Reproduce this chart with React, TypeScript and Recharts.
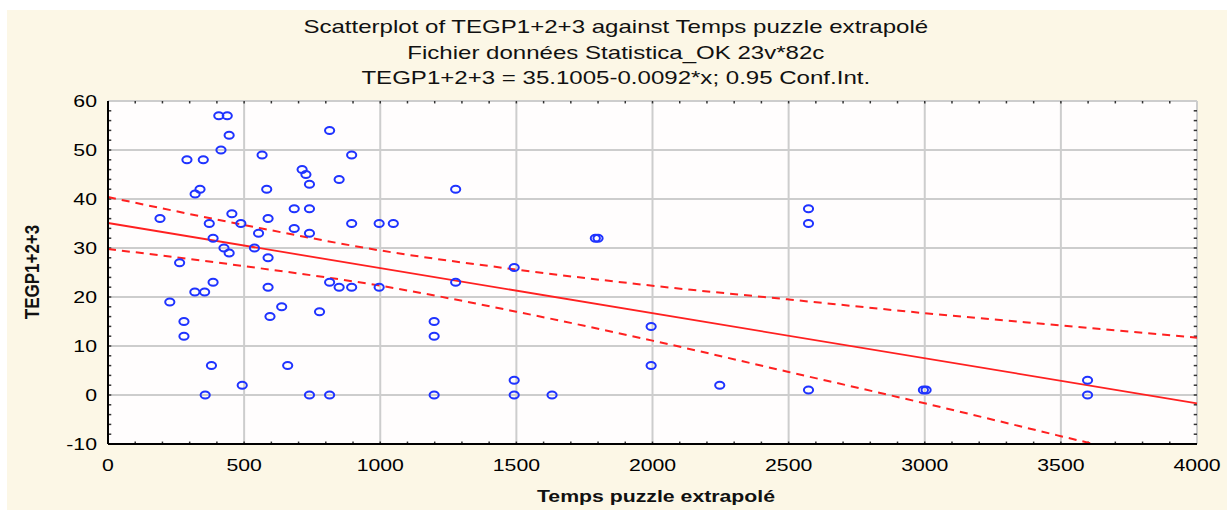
import { ComposedChart, Scatter, Line, XAxis, YAxis, CartesianGrid, ReferenceLine } from 'recharts'

const tempsPuzzle = [
  407, 438, 445, 415, 290, 350, 338, 320, 191, 372, 455, 488, 386, 426, 445, 538, 553, 588, 583, 566,
  814, 895, 713, 727, 740, 849, 684, 740, 895, 996, 1048, 684, 740, 588, 263, 386, 588, 814, 849, 895,
  996, 319, 355, 227, 279, 279, 380, 357, 493, 595, 638, 777, 660, 740, 814, 1277, 1790, 1800, 1492, 1277,
  1198, 1198, 1198, 1492, 1492, 1631, 1995, 1995, 2573, 2573, 2573, 2247, 2995, 3005, 3598, 3598,
]
const tegp = [
  57, 57, 53, 50, 48, 48, 42, 41, 36, 35, 37, 35, 32, 30, 29, 30, 33, 36, 42, 49,
  54, 49, 46, 45, 43, 44, 38, 38, 35, 35, 35, 34, 33, 28, 27, 23, 22, 23, 22, 22,
  22, 21, 21, 19, 15, 12, 6, 0, 2, 16, 18, 17, 6, 0, 0, 42, 32, 32, 26, 23,
  15, 12, 0, 3, 0, 0, 14, 6, 38, 35, 1, 2, 1, 1, 3, 0,
]

// fitted line and 0.95 confidence band, read at each 500
const bandX = [0, 500, 1000, 1500, 2000, 2500, 3000, 3500, 4000]
const bandUpper = [40.4, 34.7, 29.5, 25.6, 22.3, 19.5, 16.7, 14.2, 11.7]
const bandLower = [29.8, 26.3, 22.3, 17.0, 11.1, 4.7, -1.7, -8.4, -15.1]
const fitX = [0, 4000]
const fitY = [35.1, -1.7]

const xTicks = [0, 500, 1000, 1500, 2000, 2500, 3000, 3500, 4000]
const yTicks = [-10, 0, 10, 20, 30, 40, 50, 60]

const points = tempsPuzzle.map((x, i) => ({ x, y: tegp[i] }))
const upper = bandX.map((x, i) => ({ x, y: bandUpper[i] }))
const lower = bandX.map((x, i) => ({ x, y: bandLower[i] }))
const fit = fitX.map((x, i) => ({ x, y: fitY[i] }))

const minorX: number[] = []
for (let v = 100; v < 4000; v += 100) minorX.push(v)
const minorY: number[] = []
for (let v = -8; v < 60; v += 2) minorY.push(v)

const SX = 1.25
const FONT = '"Liberation Sans", Arial, sans-serif'

const XTick = ({ x, y, payload }: any) => (
  <text transform={`translate(${x},${y}) scale(${SX},1)`} textAnchor="middle" dy="0.71em" fontSize={17} fill="#000" fontFamily={FONT}>
    {payload.value}
  </text>
)
const YTick = ({ x, y, payload }: any) => (
  <text transform={`translate(${x},${y}) scale(${SX},1)`} textAnchor="end" dy="0.355em" fontSize={17} fill="#000" fontFamily={FONT}>
    {payload.value}
  </text>
)
const Ring = (p: any) => (
  <ellipse cx={p.cx} cy={p.cy} rx={4.6} ry={3.5} fill="none" stroke="#1f33ff" strokeWidth={2} />
)

const titleStyle: React.CSSProperties = {
  position: 'absolute', left: 0, width: 1220, textAlign: 'center', fontSize: 18.5,
  color: '#111', transform: 'scaleX(1.3)', transformOrigin: '614px 0', whiteSpace: 'nowrap',
}

export default function App() {
  return (
    <div style={{ position: 'absolute', left: 7, top: 10, width: 1220, height: 500, background: '#fcf7e6', fontFamily: FONT }}>
      <div style={{ ...titleStyle, top: 6 }}>Scatterplot of TEGP1+2+3 against Temps puzzle extrapolé</div>
      <div style={{ ...titleStyle, top: 32 }}>Fichier données Statistica_OK 23v*82c</div>
      <div style={{ ...titleStyle, top: 57 }}>TEGP1+2+3 = 35.1005-0.0092*x; 0.95 Conf.Int.</div>

      <ComposedChart width={1220} height={500} margin={{ top: 91, right: 30, left: 41, bottom: 36 }}>
        <CartesianGrid stroke="#cdcdcd" strokeWidth={2} fill="#fffdfd" />
        <XAxis type="number" dataKey="x" domain={[0, 4000]} ticks={xTicks} height={30}
          axisLine={{ stroke: '#000', strokeWidth: 2 }} tickLine={false} tickMargin={9} tick={<XTick />} />
        <XAxis xAxisId="top" type="number" orientation="top" domain={[0, 4000]} height={0}
          tick={false} tickLine={false} axisLine={{ stroke: '#000', strokeWidth: 2 }} />
        <YAxis type="number" dataKey="y" domain={[-10, 60]} ticks={yTicks} width={60} allowDataOverflow
          axisLine={{ stroke: '#000', strokeWidth: 2 }} tickLine={false} tickMargin={5} tick={<YTick />} />
        <YAxis yAxisId="right" type="number" orientation="right" domain={[-10, 60]} width={0}
          tick={false} tickLine={false} axisLine={{ stroke: '#000', strokeWidth: 2 }} />

        {minorX.map(v => (
          <ReferenceLine key={'xb' + v} segment={[{ x: v, y: -10 }, { x: v, y: -9.5 }]} stroke="#333" strokeWidth={1.5} />
        ))}
        {minorX.map(v => (
          <ReferenceLine key={'xt' + v} segment={[{ x: v, y: 60 }, { x: v, y: 59.5 }]} stroke="#333" strokeWidth={1.5} />
        ))}
        {minorY.map(v => (
          <ReferenceLine key={'yl' + v} segment={[{ x: 0, y: v }, { x: 12, y: v }]} stroke="#333" strokeWidth={1.5} />
        ))}
        {minorY.map(v => (
          <ReferenceLine key={'yr' + v} segment={[{ x: 3988, y: v }, { x: 4000, y: v }]} stroke="#333" strokeWidth={1.5} />
        ))}

        <Line data={upper} dataKey="y" type="monotone" stroke="#ff2020" strokeWidth={2} strokeDasharray="8 6" dot={false} isAnimationActive={false} />
        <Line data={lower} dataKey="y" type="monotone" stroke="#ff2020" strokeWidth={2} strokeDasharray="8 6" dot={false} isAnimationActive={false} />
        <Line data={fit} dataKey="y" type="linear" stroke="#ff2020" strokeWidth={1.8} dot={false} isAnimationActive={false} />
        <Scatter data={points} dataKey="y" shape={<Ring />} isAnimationActive={false} />
      </ComposedChart>

      <div style={{ position: 'absolute', left: 0, width: 1220, top: 477, textAlign: 'center', fontSize: 17, fontWeight: 'bold', color: '#111', transform: `translateX(39px) scaleX(${SX})`, transformOrigin: '610px 0' }}>
        Temps puzzle extrapolé
      </div>
      <div style={{ position: 'absolute', left: 26, top: 262, fontSize: 17, fontWeight: 'bold', color: '#111', transform: 'translate(-50%, -50%) rotate(-90deg) scaleY(1.15)', whiteSpace: 'nowrap' }}>
        TEGP1+2+3
      </div>
    </div>
  )
}
